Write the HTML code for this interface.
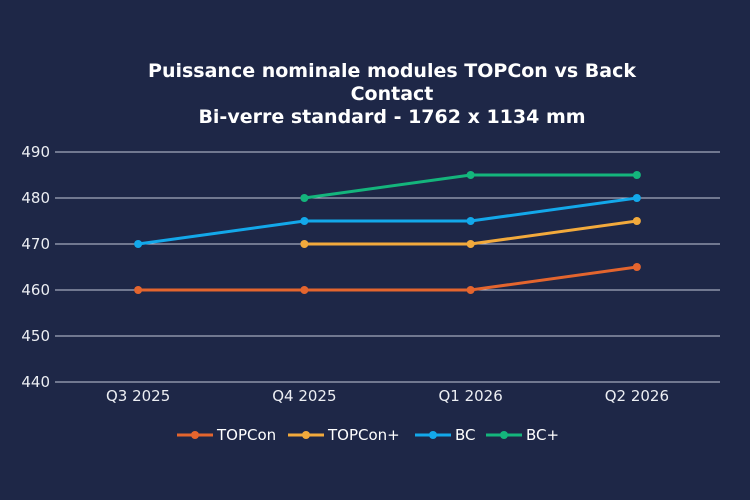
<!DOCTYPE html>
<html><head><meta charset="utf-8"><style>
body{margin:0;background:#1e2747;}
svg{display:block;font-family:"DejaVu Sans","Liberation Sans",sans-serif;}
</style></head><body>
<svg id="c" width="750" height="500">
<rect width="750" height="500" fill="#1e2747"/>
<g fill="#ffffff" font-weight="bold" font-size="19" text-anchor="middle">
<text x="392" y="77">Puissance nominale modules TOPCon vs Back</text>
<text x="392" y="100">Contact</text>
<text x="392" y="123">Bi-verre standard - 1762 x 1134 mm</text>
</g>
<g id="grid"></g>
<g id="series"></g>
<g id="legend"></g>
</svg>
<script>
const categories=["Q3 2025","Q4 2025","Q1 2026","Q2 2026"];
const yTicks=[440,450,460,470,480,490];
const topcon=[460,460,460,465];
const topconPlus=[null,470,470,475];
const bc=[470,475,475,480];
const bcPlus=[null,480,485,485];
const seriesNames=["TOPCon","TOPCon+","BC","BC+"];
const NS="http://www.w3.org/2000/svg";
const x0=55,x1=720,yTop=152,yBot=382,yMin=440,yMax=490;
const xs=i=>x0+(x1-x0)/categories.length*(i+0.5);
const ys=v=>yBot-(v-yMin)/(yMax-yMin)*(yBot-yTop);
function mk(t,a,p){const e=document.createElementNS(NS,t);for(const k in a)e.setAttribute(k,a[k]);p.appendChild(e);return e;}
const g=document.getElementById('grid');
yTicks.forEach(v=>{
 const l=mk('line',{x1:x0,x2:x1,y1:ys(v),y2:ys(v),stroke:'#c4c8d8','stroke-width':1},g);
 
 
 const t=mk('text',{x:50,y:ys(v)+5,'text-anchor':'end','font-size':15,fill:'#eceef3'},g);
 t.textContent=v;
 
 
});
categories.forEach((c,i)=>{
 const t=mk('text',{x:xs(i),y:401,'text-anchor':'middle','font-size':15,fill:'#eceef3'},g);
 t.textContent=c;
 
 
});
const data=[topcon,topconPlus,bc,bcPlus];
const colors=["#e4652e","#f2aa3c","#13a8ea","#14b57c"];
const sg=document.getElementById('series');
data.forEach((d,si)=>{
 let pts=[];d.forEach((v,i)=>{if(v!=null)pts.push([xs(i),ys(v)]);});
 const p=mk('polyline',{points:pts.map(p=>p.join(',')).join(' '),fill:'none',stroke:colors[si],'stroke-width':3},sg);
 
 
 pts.forEach(q=>{const c=mk('circle',{cx:q[0],cy:q[1],r:4,fill:colors[si]},sg);
  
  });
});
const lg=document.getElementById('legend');
const lx=[177,288,415,486];
seriesNames.forEach((n,i)=>{
 const it=mk('g',{},lg);
 
 
 mk('line',{x1:lx[i],x2:lx[i]+36,y1:435,y2:435,stroke:colors[i],'stroke-width':3},it);
 mk('circle',{cx:lx[i]+18,cy:435,r:4,fill:colors[i]},it);
 const t=mk('text',{x:lx[i]+40,y:440,'font-size':15,fill:'#ffffff'},it);
 t.textContent=n;
});
</script>
</body></html>
